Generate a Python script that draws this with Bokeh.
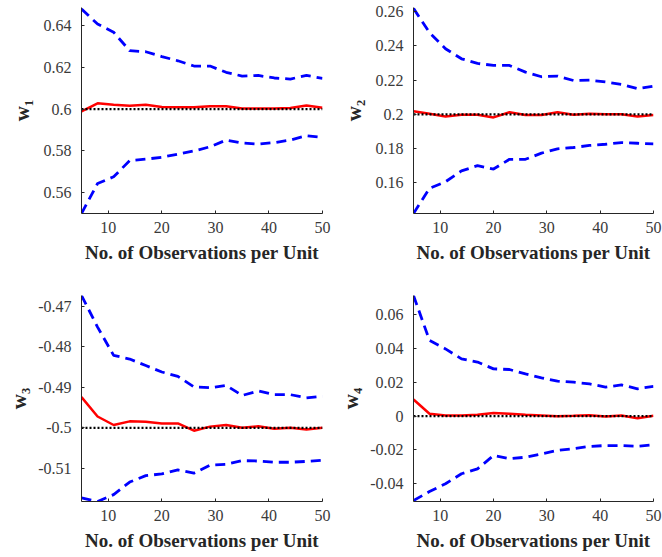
from bokeh.plotting import figure
from bokeh.layouts import gridplot
from bokeh.models import Range1d, FixedTicker, CustomJSTickFormatter
from bokeh.embed import file_html
from bokeh.resources import INLINE

# Number of observations per unit
obs = [5, 8, 11, 14, 17, 20, 23, 26, 29, 32, 35, 38, 41, 44, 47, 50]

# w1: true value, mean estimate and interval bounds
w1_true = 0.6
w1_mean = [0.5989, 0.6027, 0.6020, 0.6016, 0.6020, 0.6010, 0.6008, 0.6008,
           0.6013, 0.6013, 0.6003, 0.6003, 0.6002, 0.6005, 0.6017, 0.6006]
w1_upper = [0.6477, 0.6405, 0.6366, 0.6278, 0.6273, 0.6250, 0.6230, 0.6205,
            0.6205, 0.6175, 0.6157, 0.6160, 0.6148, 0.6143, 0.6160, 0.6146]
w1_lower = [0.5502, 0.5645, 0.5677, 0.5754, 0.5761, 0.5770, 0.5785, 0.5800,
            0.5820, 0.5852, 0.5838, 0.5833, 0.5840, 0.5852, 0.5873, 0.5865]

# w2
w2_true = 0.2
w2_mean = [0.2018, 0.2004, 0.1988, 0.1998, 0.1998, 0.1982, 0.2012, 0.1996,
           0.1996, 0.2012, 0.1998, 0.2004, 0.2000, 0.2000, 0.1988, 0.1996]
w2_upper = [0.2620, 0.2478, 0.2384, 0.2325, 0.2298, 0.2286, 0.2286, 0.2247,
            0.2220, 0.2224, 0.2198, 0.2200, 0.2190, 0.2175, 0.2150, 0.2165]
w2_lower = [0.1420, 0.1567, 0.1606, 0.1669, 0.1700, 0.1680, 0.1737, 0.1737,
            0.1773, 0.1798, 0.1806, 0.1818, 0.1825, 0.1835, 0.1831, 0.1827]

# w3
w3_true = -0.5
w3_mean = [-0.4924, -0.4972, -0.4993, -0.4984, -0.4985, -0.4989, -0.4989, -0.5007,
           -0.4997, -0.4993, -0.5000, -0.4996, -0.5002, -0.5000, -0.5004, -0.5000]
w3_upper = [-0.4673, -0.4751, -0.4821, -0.4830, -0.4846, -0.4862, -0.4873, -0.4899,
            -0.4901, -0.4895, -0.4920, -0.4909, -0.4918, -0.4918, -0.4926, -0.4922]
w3_lower = [-0.5173, -0.5182, -0.5165, -0.5134, -0.5118, -0.5114, -0.5104, -0.5112,
            -0.5092, -0.5090, -0.5081, -0.5082, -0.5085, -0.5085, -0.5083, -0.5080]

# w4
w4_true = 0.0
w4_mean = [0.0099, 0.0014, 0.0004, 0.0004, 0.0008, 0.0018, 0.0014, 0.0008,
           0.0004, 0.0000, 0.0002, 0.0006, -0.0002, 0.0004, -0.0012, 0.0002]
w4_upper = [0.0714, 0.0448, 0.0398, 0.0339, 0.0320, 0.0280, 0.0276, 0.0250,
            0.0227, 0.0207, 0.0201, 0.0191, 0.0172, 0.0185, 0.0162, 0.0176]
w4_lower = [-0.0499, -0.0446, -0.0400, -0.0341, -0.0312, -0.0233, -0.0252, -0.0243,
            -0.0223, -0.0203, -0.0193, -0.0179, -0.0174, -0.0174, -0.0178, -0.0170]

# Axis ticks
x_ticks = [10, 20, 30, 40, 50]
w1_ticks = [0.56, 0.58, 0.6, 0.62, 0.64]
w2_ticks = [0.16, 0.18, 0.2, 0.22, 0.24, 0.26]
w3_ticks = [-0.51, -0.5, -0.49, -0.48, -0.47]
w4_ticks = [-0.04, -0.02, 0, 0.02, 0.04, 0.06]

AX_COLOR = "#262626"
FONT = "Liberation Serif"

fmt = CustomJSTickFormatter(code="return String(Number(tick.toFixed(4)));")


def panel(label, mean, upper, lower, true_val, yr, yticks, w, h, borders, lab_standoff):
    left, right, top, bottom = borders
    p = figure(width=w, height=h, output_backend="svg", toolbar_location=None,
               x_range=Range1d(5, 50), y_range=Range1d(*yr),
               min_border_left=left, min_border_right=right,
               min_border_top=top, min_border_bottom=bottom)
    p.outline_line_color = None
    p.xgrid.visible = False
    p.ygrid.visible = False
    p.background_fill_color = "white"
    p.border_fill_color = "white"

    p.line(obs, upper, line_color="#0000FF", line_width=2.8, line_dash="10 6")
    p.line(obs, lower, line_color="#0000FF", line_width=2.8, line_dash="10 6")
    p.line(obs, mean, line_color="#FF0000", line_width=2.5)
    p.line([obs[0], obs[-1]], [true_val, true_val], line_color="black",
           line_width=2.3, line_dash="2 2")

    for ax in (p.xaxis[0], p.yaxis[0]):
        ax.axis_line_color = AX_COLOR
        ax.axis_line_width = 1
        ax.major_tick_line_color = AX_COLOR
        ax.major_tick_in = 3
        ax.major_tick_out = 0
        ax.minor_tick_line_color = None
        ax.major_label_text_font = FONT
        ax.major_label_text_font_size = "16px"
        ax.major_label_text_color = "#3a3a3a"
        ax.axis_label_text_font = FONT
        ax.axis_label_text_font_style = "bold"
        ax.axis_label_text_color = AX_COLOR

    p.xaxis.ticker = FixedTicker(ticks=x_ticks)
    p.xaxis.axis_label = "No. of Observations per Unit"
    p.xaxis.axis_label_text_font_size = "19px"
    p.xaxis.major_label_standoff = 8
    p.xaxis.axis_label_standoff = 6

    p.yaxis.ticker = FixedTicker(ticks=yticks)
    p.yaxis.formatter = fmt
    p.yaxis.axis_label = label
    p.yaxis.axis_label_text_font_size = "21px"
    p.yaxis.major_label_standoff = 10
    p.yaxis.axis_label_standoff = lab_standoff
    return p


p1 = panel("w\u2081", w1_mean, w1_upper, w1_lower, w1_true, (0.5502, 0.6484), w1_ticks,
           331, 280, (81, 9, 7, 67), 7)
p2 = panel("w\u2082", w2_mean, w2_upper, w2_lower, w2_true, (0.142, 0.2625), w2_ticks,
           331, 280, (82, 9, 7, 67), 7)
p3 = panel("w\u2083", w3_mean, w3_upper, w3_lower, w3_true, (-0.5182, -0.4673), w3_ticks,
           331, 277, (81, 9, 15, 56), 4)
p4 = panel("w\u2084", w4_mean, w4_upper, w4_lower, w4_true, (-0.0505, 0.0714), w4_ticks,
           331, 277, (82, 9, 15, 56), 4)

grid = gridplot([[p1, p2], [p3, p4]], toolbar_location=None)

with open("out.html", "w") as f:
    f.write(file_html(grid, INLINE))
